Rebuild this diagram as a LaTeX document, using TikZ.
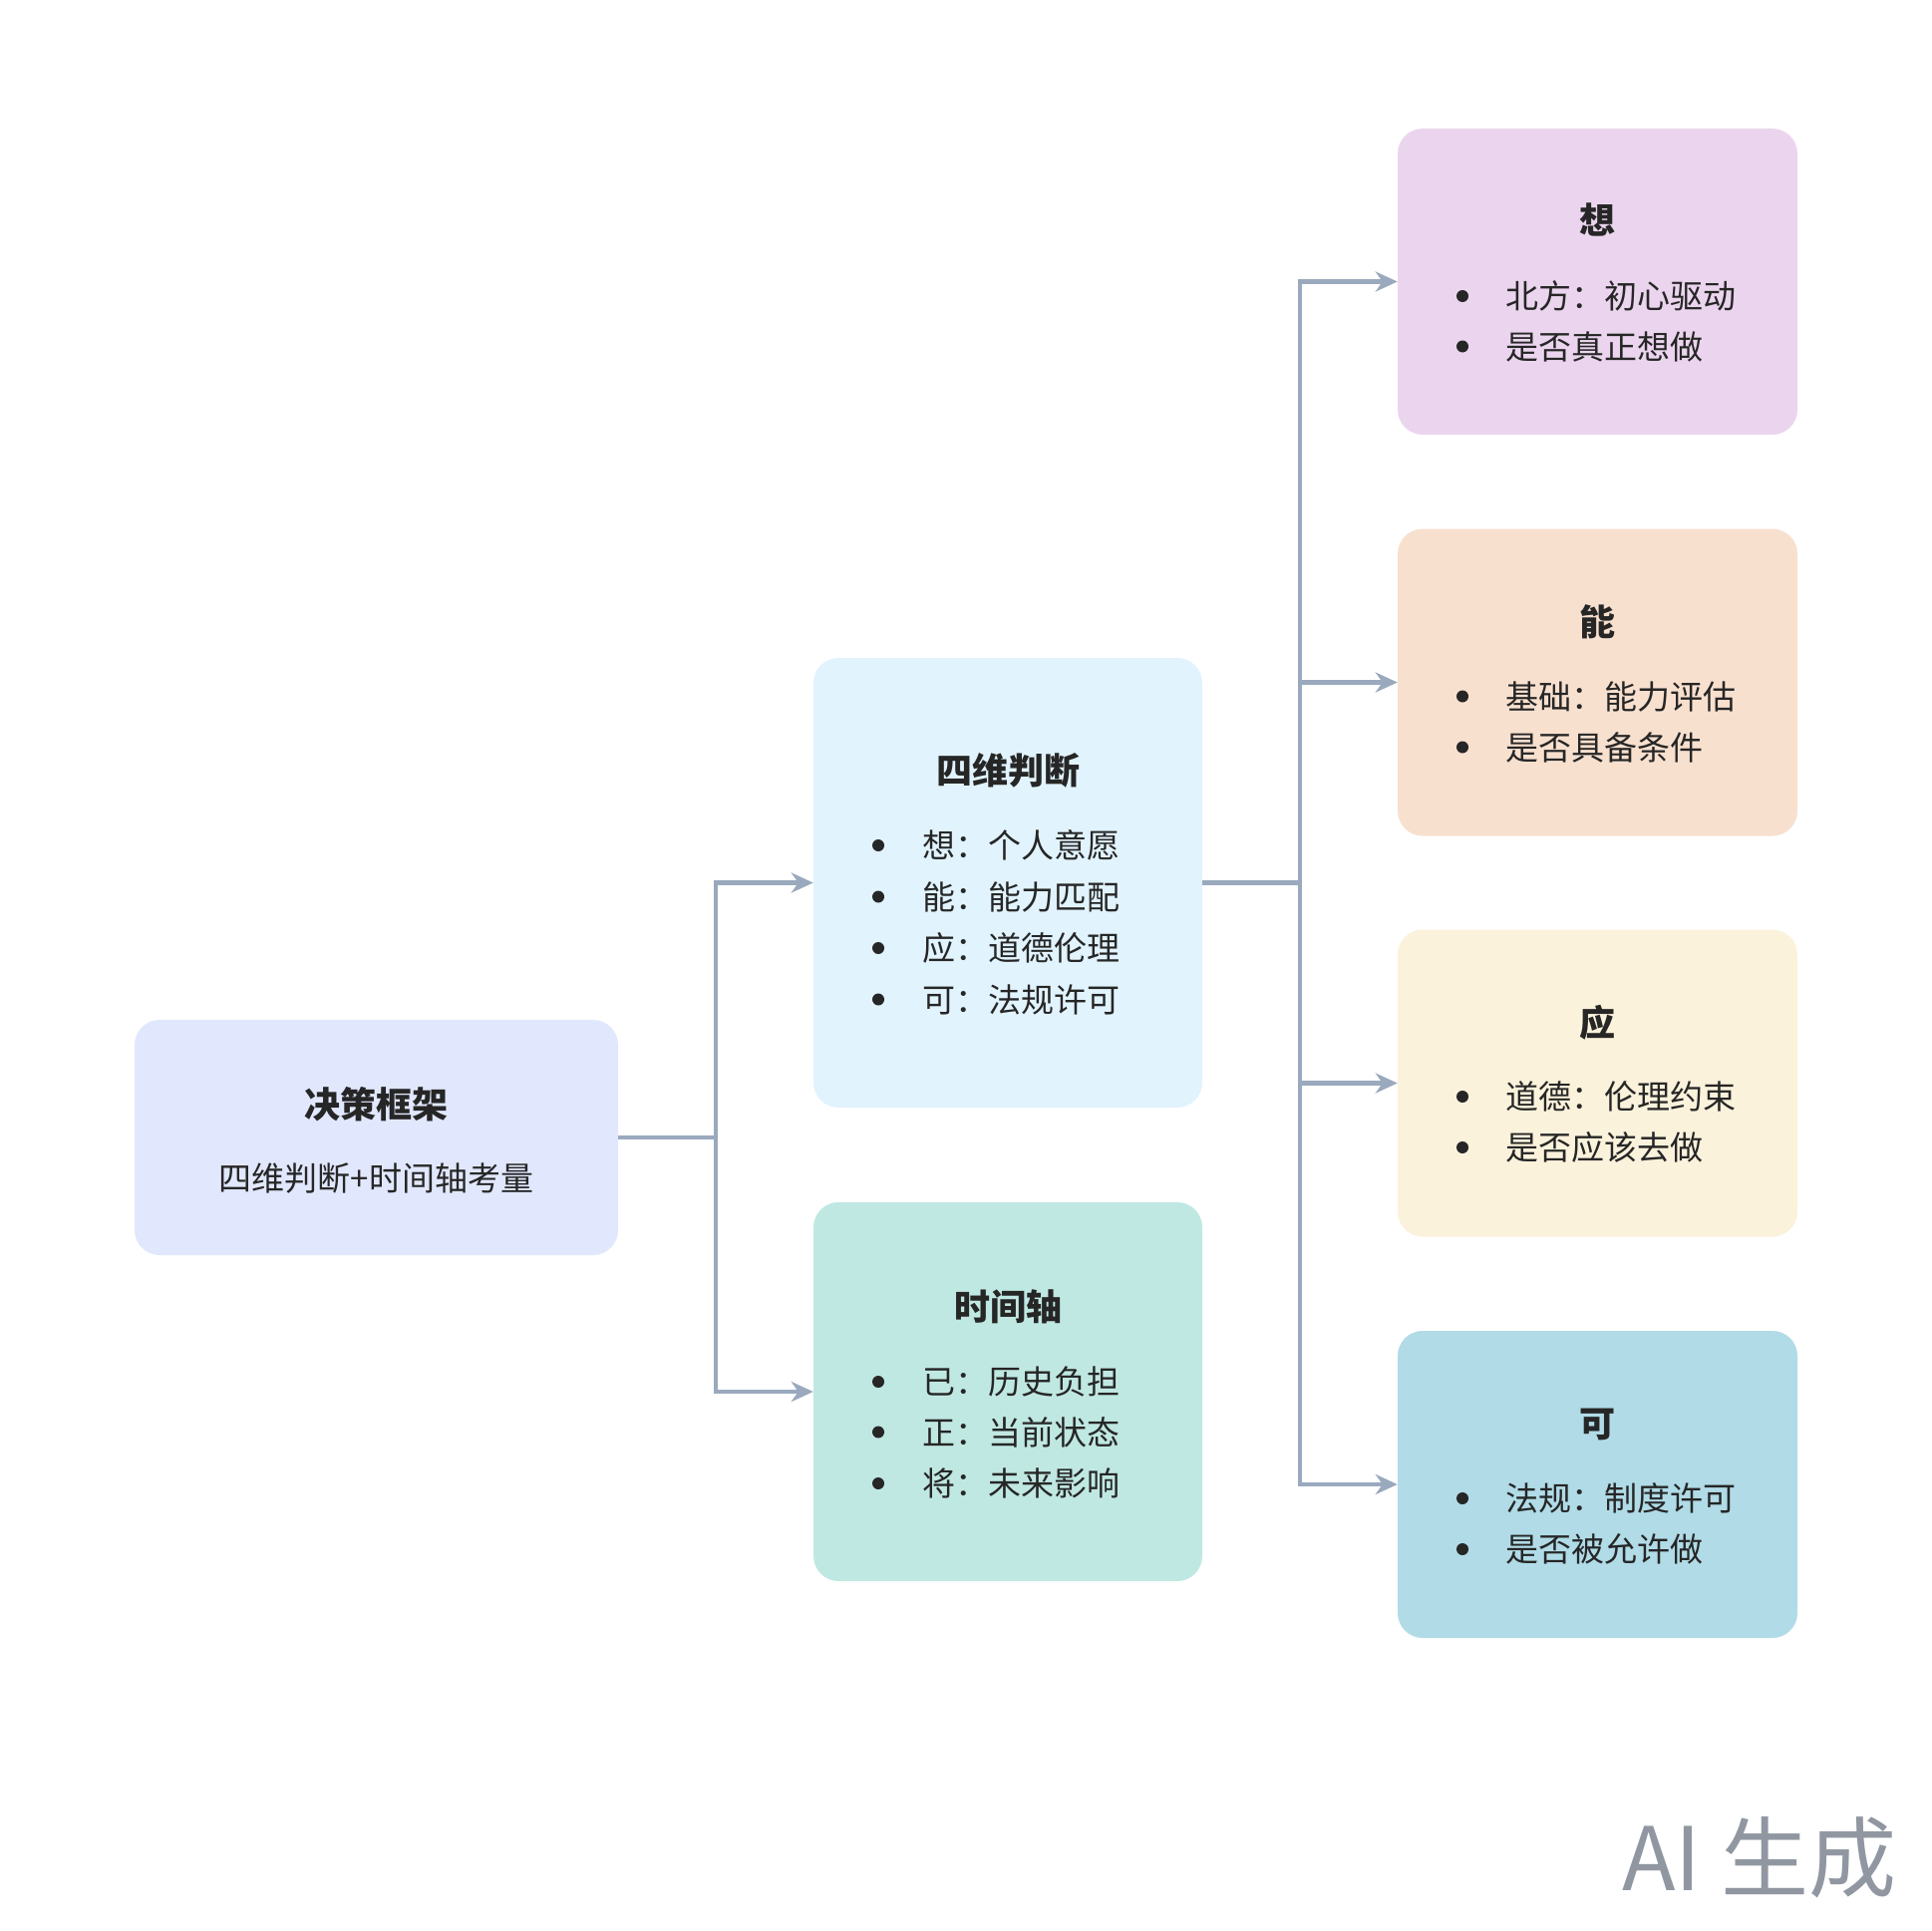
\documentclass[tikz,border=0pt]{standalone}
\usepackage{fontspec}
\setmainfont{Noto Sans CJK SC}
\usetikzlibrary{arrows.meta}
\definecolor{txt}{HTML}{262626}
\definecolor{linec}{HTML}{9AA9BD}
\definecolor{cRoot}{HTML}{E1E8FD}
\definecolor{cFour}{HTML}{E1F3FD}
\definecolor{cTime}{HTML}{C0E8E2}
\definecolor{cXiang}{HTML}{EBD5EE}
\definecolor{cNeng}{HTML}{F8E0CF}
\definecolor{cYing}{HTML}{FBF2DC}
\definecolor{cKe}{HTML}{B0DBE7}
\definecolor{wm}{HTML}{9097A1}
\tikzset{
  box/.style={rounded corners=25pt, draw=none, inner sep=0pt},
  ttl/.style={anchor=base, text=txt, font=\fontsize{36}{40}\selectfont\bfseries, inner sep=0pt},
  itm/.style={anchor=base west, text=txt, font=\fontsize{33}{38}\selectfont, inner sep=0pt},
  sub/.style={anchor=base, text=txt, font=\fontsize{33}{38}\selectfont, inner sep=0pt},
  bul/.style={circle, fill=txt, minimum size=12pt, inner sep=0pt},
  conn/.style={draw=linec, line width=4.2pt},
  arr/.style={conn, -{Stealth[length=22pt,width=20pt,inset=7pt]}},
}
\begin{document}
\begin{tikzpicture}[x=1pt,y=-1pt]
\useasboundingbox[fill=white] (0,0) rectangle (1938,1937);
% boxes
\node[box, fill=cRoot, minimum width=485pt, minimum height=236pt] (root) at (377.5,1141) {};
\node[box, fill=cFour, minimum width=390pt, minimum height=451pt] (four) at (1011,885.5) {};
\node[box, fill=cTime, minimum width=390pt, minimum height=380pt] (time) at (1011,1396) {};
\node[box, fill=cXiang, minimum width=401pt, minimum height=307pt] (xiang) at (1602.5,282.5) {};
\node[box, fill=cNeng, minimum width=401pt, minimum height=308pt] (neng) at (1602.5,684.5) {};
\node[box, fill=cYing, minimum width=401pt, minimum height=308pt] (ying) at (1602.5,1086.5) {};
\node[box, fill=cKe, minimum width=401pt, minimum height=308pt] (ke) at (1602.5,1489) {};
% connectors
\coordinate (t1) at (718,1141);
\coordinate (t2) at (1304,885.5);
\draw[conn] (root.east) -- (t1);
\draw[arr] (t1) |- (four.west);
\draw[arr] (t1) |- (time.west);
\draw[conn] (four.east) -- (t2);
\draw[arr] (t2) |- (xiang.west);
\draw[arr] (t2) |- (neng.west);
\draw[arr] (t2) |- (ying.west);
\draw[arr] (t2) |- (ke.west);
% root text
\node[ttl] (rootT) at (377.5,1121) {决策框架};
\node[sub] (rootS) at (377.5,1194.5) {四维判断+时间轴考量};
% four
\node[ttl] (fourT) at (1011,786) {四维判断};
\foreach \y/\t [count=\i] in {848/想：个人意愿, 899.5/能：能力匹配, 951/应：道德伦理, 1002.5/可：法规许可}{
  \node[bul] (fb\i) at (881,\y) {};
  \node[itm] (fi\i) at (925,\y+12.5) {\t};
}
% time
\node[ttl] (timeT) at (1011,1324) {时间轴};
\foreach \y/\t [count=\i] in {1386/已：历史负担, 1436.5/正：当前状态, 1488/将：未来影响}{
  \node[bul] (tb\i) at (881,\y) {};
  \node[itm] (ti\i) at (925,\y+12.5) {\t};
}
% right boxes
\node[ttl] (xT) at (1602.5,235) {想};
\node[bul] (xb1) at (1467,297) {};
\node[itm] (xi1) at (1510,309.5) {北方：初心驱动};
\node[bul] (xb2) at (1467,347.5) {};
\node[itm] (xi2) at (1510,360) {是否真正想做};
\node[ttl] (nT) at (1602.5,637.5) {能};
\node[bul] (nb1) at (1467,698.5) {};
\node[itm] (ni1) at (1510,711) {基础：能力评估};
\node[bul] (nb2) at (1467,749.5) {};
\node[itm] (ni2) at (1510,762) {是否具备条件};
\node[ttl] (yT) at (1602.5,1039.5) {应};
\node[bul] (yb1) at (1467,1100) {};
\node[itm] (yi1) at (1510,1112.5) {道德：伦理约束};
\node[bul] (yb2) at (1467,1151) {};
\node[itm] (yi2) at (1510,1163.5) {是否应该去做};
\node[ttl] (kT) at (1602.5,1441.5) {可};
\node[bul] (kb1) at (1467,1503) {};
\node[itm] (ki1) at (1510,1515.5) {法规：制度许可};
\node[bul] (kb2) at (1467,1554) {};
\node[itm] (ki2) at (1510,1566.5) {是否被允许做};
% watermark
\node[anchor=base west, inner sep=0pt, text=wm, font=\fontsize{88}{96}\selectfont] (wmk) at (1627,1896) {AI 生成};
\end{tikzpicture}
\end{document}
